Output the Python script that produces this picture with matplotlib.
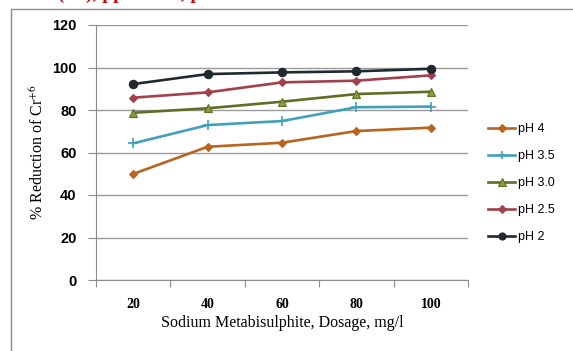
import matplotlib
matplotlib.use("Agg")
import matplotlib.pyplot as plt
from matplotlib.lines import Line2D

plt.rcParams["mathtext.fontset"] = "stix"

# dosage categories (mg/l)
dosage = ["20", "40", "60", "80", "100"]

# % reduction of Cr+6 for each pH
ph4 = [49.9, 62.7, 64.6, 70.1, 71.7]
ph35 = [64.3, 72.9, 74.8, 81.3, 81.6]
ph30 = [78.7, 80.8, 83.9, 87.5, 88.6]
ph25 = [85.8, 88.3, 93.0, 93.8, 96.3]
ph2 = [92.2, 96.9, 97.7, 98.2, 99.4]

series = [
    ("pH 4", ph4, "#b8641f", "D", 4.5),
    ("pH 3.5", ph35, "#3fa2b8", "+", 7),
    ("pH 3.0", ph30, "#5f6e24", "^", 6),
    ("pH 2.5", ph25, "#a3404c", "D", 4.5),
    ("pH 2", ph2, "#1f2a30", "o", 6),
]
mfc = {"pH 3.0": "#8a9d3a"}

fig = plt.figure(figsize=(5.73, 3.51), dpi=100)
ax = fig.add_axes([96 / 573, 1 - 280 / 351, 372 / 573, 255 / 351])

x = list(range(len(dosage)))
for name, vals, col, mk, ms in series:
    ax.plot(x, vals, color=col, lw=1.9, marker=mk, ms=ms,
            mfc=mfc.get(name, col), mec=col, mew=1.2 if mk == "+" else 0.8,
            label=name, zorder=3)

ax.set_xlim(-0.5, len(dosage) - 0.5)
ax.set_ylim(0, 120)
ax.set_yticks(range(0, 121, 20))
ax.yaxis.grid(True, color="#9a9a9a", lw=1)
ax.set_axisbelow(True)
for s in ["top", "right"]:
    ax.spines[s].set_visible(False)
for s in ["left", "bottom"]:
    ax.spines[s].set_color("#8c8c8c")

ax.set_xticks([i - 0.5 for i in range(len(dosage) + 1)])
ax.set_xticklabels([])
ax.set_xticks(x, minor=True)
ax.set_xticklabels(dosage, minor=True)
ax.tick_params(axis="x", which="major", length=5, color="#8c8c8c")
ax.tick_params(axis="x", which="minor", length=0, pad=13, labelsize=10)
ax.tick_params(axis="y", length=6, color="#8c8c8c", pad=8, labelsize=10.5)
for t in ax.get_xticklabels(minor=True):
    t.set_fontweight("bold")
    t.set_family("Liberation Serif")
for t in ax.get_yticklabels():
    t.set_fontweight("bold")
    t.set_family("Liberation Sans")

ax.set_xlabel("Sodium Metabisulphite, Dosage, mg/l", family="Liberation Serif",
              fontsize=11.5, labelpad=3)
ax.set_ylabel("% Reduction of Cr$^{+6}$", family="Liberation Serif",
              fontsize=11.5, labelpad=4)

ax.legend(loc="center left", bbox_to_anchor=(1.04, 0.38), frameon=False,
          prop={"family": "Liberation Sans", "size": 9},
          handlelength=2.2, handletextpad=0.2, labelspacing=1.2,
          borderaxespad=0, markerscale=0.85)

# outer chart frame (only left and top edges visible)
fig.add_artist(Line2D([11 / 573, 11 / 573, 1.01], [-0.01, 1 - 9 / 351, 1 - 9 / 351],
                      transform=fig.transFigure, color="#8c8c8c", lw=1))

# caption above the frame, cut off by the picture's top edge as in the source
fig.text(35 / 573, 1 + 1 / 351, "Cr(VI), ppm = 10, pH 2 - 4", color="#cc0000",
         family="Liberation Serif", fontweight="bold", fontsize=14, va="baseline")

fig.savefig("out.png", dpi=100)
